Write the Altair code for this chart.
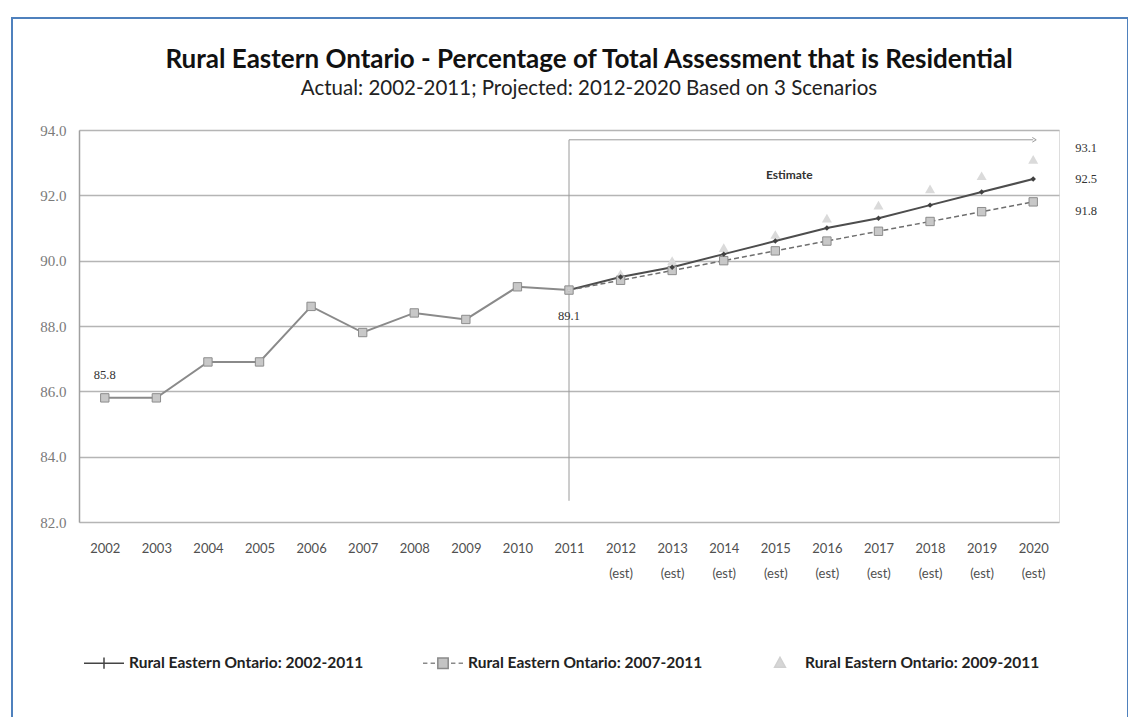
import altair as alt
import pandas as pd

# ---------------- data ----------------
years = list(range(2002, 2021))
x_labels = [str(y) for y in years[:10]] + [f"{y}|(est)" for y in years[10:]]

actual = [85.8, 85.8, 86.9, 86.9, 88.6, 87.8, 88.4, 88.2, 89.2, 89.1]          # 2002-2011
proj_2002_2011 = [89.5, 89.8, 90.2, 90.6, 91.0, 91.3, 91.7, 92.1, 92.5]       # 2012-2020
proj_2007_2011 = [89.4, 89.7, 90.0, 90.3, 90.6, 90.9, 91.2, 91.5, 91.8]
proj_2009_2011 = [89.6, 90.0, 90.4, 90.8, 91.3, 91.7, 92.2, 92.6, 93.1]

N1 = "Rural Eastern Ontario: 2002-2011"
N2 = "Rural Eastern Ontario: 2007-2011"
N3 = "Rural Eastern Ontario: 2009-2011"
series_names = [N1, N2, N3]

rows = []
for name, vals in [(N1, actual + proj_2002_2011),
                   (N2, actual + proj_2007_2011),
                   (N3, actual + proj_2009_2011)]:
    for i, (lab, v) in enumerate(zip(x_labels, vals)):
        rows.append({"series": name, "label": lab, "idx": i, "value": v})
df = pd.DataFrame(rows)
one = pd.DataFrame({"k": [0]})

# ---------------- encodings ----------------
FONT = "Lato"
SERIF = "Liberation Serif"

x_enc = alt.X("label:N", sort=x_labels,
              scale=alt.Scale(type="point", domain=x_labels, padding=0.5),
              axis=alt.Axis(title=None, labelAngle=0, labelAlign="center", domain=False, ticks=False,
                            labelPadding=26, labelFont=FONT, labelFontSize=13,
                            labelColor="#505050", labelLineHeight=25,
                            labelExpr="split(datum.label, '|')", grid=False))
y_enc = alt.Y("value:Q",
              scale=alt.Scale(domain=[82, 94], nice=False, zero=False),
              axis=alt.Axis(title=None, values=[82, 84, 86, 88, 90, 92, 94], format=".1f",
                            labelFont=SERIF, labelFontSize=15, labelColor="#7a7a7a",
                            ticks=False, labelPadding=13, domain=True, domainColor="#a0a0a0",
                            domainWidth=1.5, grid=True, gridColor="#b5b5b5", gridWidth=1.5))

base = alt.Chart(df).encode(x=x_enc, y=y_enc)

hist_line = base.transform_filter((alt.datum.series == N2) & (alt.datum.idx <= 9)).mark_line(
    color="#8a8a8a", strokeWidth=2)
s1_line = base.transform_filter((alt.datum.series == N1) & (alt.datum.idx >= 9)).mark_line(
    color="#4d4d4d", strokeWidth=2)
s2_line = base.transform_filter((alt.datum.series == N2) & (alt.datum.idx >= 9)).mark_line(
    color="#6e6e6e", strokeWidth=1.5, strokeDash=[5, 3])

s3_pts = base.transform_filter((alt.datum.series == N3) & (alt.datum.idx >= 10)).mark_point(
    shape="triangle-up", filled=True, color="#dadada", size=100, opacity=1)
s2_pts = base.transform_filter(alt.datum.series == N2).mark_point(
    shape="square", filled=True, fill="#c8c8c8", stroke="#8c8c8c", strokeWidth=1,
    size=70, opacity=1)
s1_pts = base.transform_filter((alt.datum.series == N1) & (alt.datum.idx >= 10)).mark_point(
    shape="diamond", filled=True, color="#404040", size=30, opacity=1)

# legend carrier (tiny marks at the 2011 point)
legend_shapes = [
    "M-1,0H1M0,-0.28V0.28",
    "M-1,0H-0.78M-0.62,0H-0.4M-0.26,-0.26H0.26V0.26H-0.26ZM0.4,0H0.62M0.78,0H1",
    "M0,-0.3L0.27,0.2H-0.27Z",
]
leg = alt.Legend(orient="none", legendX=4, legendY=512, direction="horizontal",
                 columns=3, title=None, symbolSize=1600, symbolStrokeWidth=1.5,
                 labelFont=FONT, labelFontSize=15.5, labelFontWeight="bold",
                 labelColor="#222", columnPadding=56, labelOffset=4, labelLimit=400)
legend_layer = base.transform_filter(alt.datum.idx == 9).mark_point(
    filled=True, size=1, opacity=1).encode(
    shape=alt.Shape("series:N", scale=alt.Scale(domain=series_names, range=legend_shapes), legend=leg),
    fill=alt.Fill("series:N", scale=alt.Scale(domain=series_names,
                                               range=["#444444", "#c4c4c4", "#d6d6d6"]), legend=leg),
    stroke=alt.Stroke("series:N", scale=alt.Scale(domain=series_names,
                                                   range=["#444444", "#8a8a8a", "#d0d0d0"]), legend=leg),
)

# value labels
def vlabel(series, idx, dx=0, dy=0, align="center"):
    return base.transform_filter((alt.datum.series == series) & (alt.datum.idx == idx)).mark_text(
        font=SERIF, fontSize=12.5, color="#333", dx=dx, dy=dy, align=align).encode(
        text=alt.Text("value:Q", format=".1f"))

lab_start = vlabel(N1, 0, dy=-23)
lab_2011 = vlabel(N1, 9, dy=26)
lab_end3 = vlabel(N3, 18, dx=42, dy=-11, align="left")
lab_end1 = vlabel(N1, 18, dx=42, dy=0, align="left")
lab_end2 = vlabel(N2, 18, dx=42, dy=9, align="left")

# estimate marker: vertical divider, arrow and label
vline = alt.Chart(one).mark_rule(color="#9a9a9a", strokeWidth=1).encode(
    x=alt.datum(x_labels[9]), y=alt.datum(93.7), y2=alt.datum(82.65))
hline = alt.Chart(one).mark_rule(color="#9a9a9a", strokeWidth=1).encode(
    x=alt.datum(x_labels[9]), x2=alt.datum(x_labels[18]), y=alt.datum(93.7))
arrow = alt.Chart(one).mark_point(shape="M-1,-0.6L0,0L-1,0.6", filled=False, color="#9a9a9a",
                                  size=60, strokeWidth=1, opacity=1, xOffset=3).encode(
    x=alt.datum(x_labels[18]), y=alt.datum(93.7))
est_text = alt.Chart(one).mark_text(text="Estimate", font=FONT, fontSize=12, fontWeight="bold",
                                    color="#333", dx=14).encode(
    x=alt.datum(x_labels[13]), y=alt.datum(92.62))

frame = alt.Chart(one).mark_rect(fill=None, stroke="#4f81bd", strokeWidth=2).encode(
    x=alt.value(-67), x2=alt.value(1049), y=alt.value(-112), y2=alt.value(620))

chart = alt.layer(
    frame, vline, hline, arrow, est_text,
    hist_line, s3_pts, s1_line, s2_line, s2_pts, s1_pts, legend_layer,
    lab_start, lab_2011, lab_end3, lab_end1, lab_end2,
).properties(
    width=980, height=392,
    title=alt.TitleParams(
        text="Rural Eastern Ontario - Percentage of Total Assessment that is Residential",
        subtitle="Actual: 2002-2011; Projected: 2012-2020 Based on 3 Scenarios",
        font=FONT, fontSize=26, fontWeight="bold", color="#111",
        subtitleFont=FONT, subtitleFontSize=20.5, subtitleColor="#222",
        subtitlePadding=6, anchor="middle", dx=20, offset=-82),
    autosize=alt.AutoSizeParams(type="none"),
    padding={"left": 71, "top": 122, "right": 69, "bottom": 195},
).configure_view(stroke=None).configure(background="white")

chart.save("out.html", embed_options={"renderer": "svg", "actions": False})
